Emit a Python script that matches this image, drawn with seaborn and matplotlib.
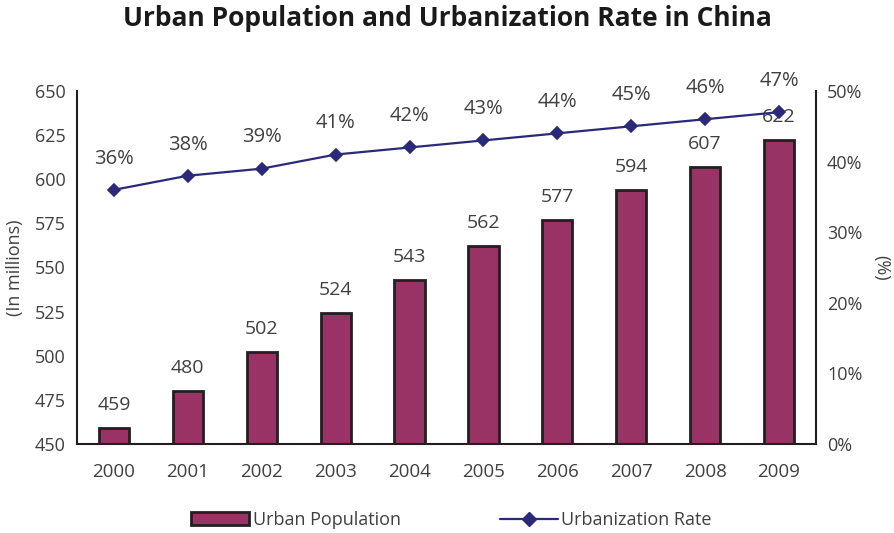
import matplotlib
matplotlib.use("Agg")
import matplotlib.pyplot as plt
import seaborn as sns
import pandas as pd
from matplotlib.lines import Line2D
from matplotlib.patches import Patch

years = ["2000", "2001", "2002", "2003", "2004", "2005", "2006", "2007", "2008", "2009"]
urban_population = [459, 480, 502, 524, 543, 562, 577, 594, 607, 622]
urbanization_rate = [36, 38, 39, 41, 42, 43, 44, 45, 46, 47]
left_ticks = [450, 475, 500, 525, 550, 575, 600, 625, 650]
right_ticks = [0, 10, 20, 30, 40, 50]

sns.set_theme(style="white")
plt.rcParams['font.family'] = ['Open Sans', 'DejaVu Sans']

bar_color = "#993366"
edge_color = "#231F20"
line_color = "#2B2A7A"
text_color = "#404040"

df = pd.DataFrame({"Year": years, "Pop": urban_population, "Rate": urbanization_rate})

fig = plt.figure(figsize=(8.94, 5.33), dpi=100)
ax = fig.add_axes([77/894, 1-444/533, (816-77)/894, (444-91)/533])

sns.barplot(data=df, x="Year", y="Pop", ax=ax, color=bar_color, width=0.41,
            edgecolor=edge_color, linewidth=2, saturation=1)
ax.set_ylim(450, 650)
ax.set_yticks(left_ticks)
ax.set_xlabel("")
ax.set_ylabel("(In millions)", fontsize=13, color=text_color, labelpad=8)
for i, v in enumerate(urban_population):
    ax.text(i, v + 8, str(v), ha="center", va="bottom", fontsize=14, color=text_color)

ax2 = ax.twinx()
sns.pointplot(data=df, x="Year", y="Rate", ax=ax2, color=line_color, markers="D",
              markersize=6, linewidth=1.6)
ax2.set_ylim(0, 50)
ax2.set_yticks(right_ticks)
ax2.set_yticklabels([f"{t}%" for t in right_ticks])
ax2.set_ylabel("(%)", fontsize=13, color=text_color, rotation=270, labelpad=20)
ax2.set_xlabel("")
for i, v in enumerate(urbanization_rate):
    ax2.text(i, v + 3.0, f"{v}%", ha="center", va="bottom", fontsize=14.5, color=text_color)
ax2.set_xlim(-0.5, 9.5)
ax.set_xlim(-0.5, 9.5)

for a in (ax, ax2):
    a.tick_params(axis="both", length=0, labelsize=13, labelcolor=text_color, pad=8)
    for s in a.spines.values():
        s.set_visible(False)
    a.grid(False)
ax.tick_params(axis="x", pad=14, labelsize=13.5)
ax.spines["left"].set_visible(True)
ax.spines["bottom"].set_visible(True)
ax2.spines["right"].set_visible(True)
for s in (ax.spines["left"], ax.spines["bottom"], ax2.spines["right"]):
    s.set_color("#231F20")
    s.set_linewidth(1.5)

fig.suptitle("Urban Population and Urbanization Rate in China", x=0.5, y=0.99,
             fontsize=19, fontweight="bold", color="#1a1a1a")

handles = [Patch(facecolor=bar_color, edgecolor=edge_color, linewidth=2, label="Urban Population"),
           Line2D([0], [0], color=line_color, marker="D", markersize=7, linewidth=1.6,
                  label="Urbanization Rate")]
fig.legend(handles=handles, loc="center", bbox_to_anchor=(0.505, 1-520/533), ncol=2,
           frameon=False, fontsize=13, handlelength=3.2, columnspacing=5.5,
           handletextpad=0.2, labelcolor=text_color)

fig.savefig("out.png", dpi=100)
